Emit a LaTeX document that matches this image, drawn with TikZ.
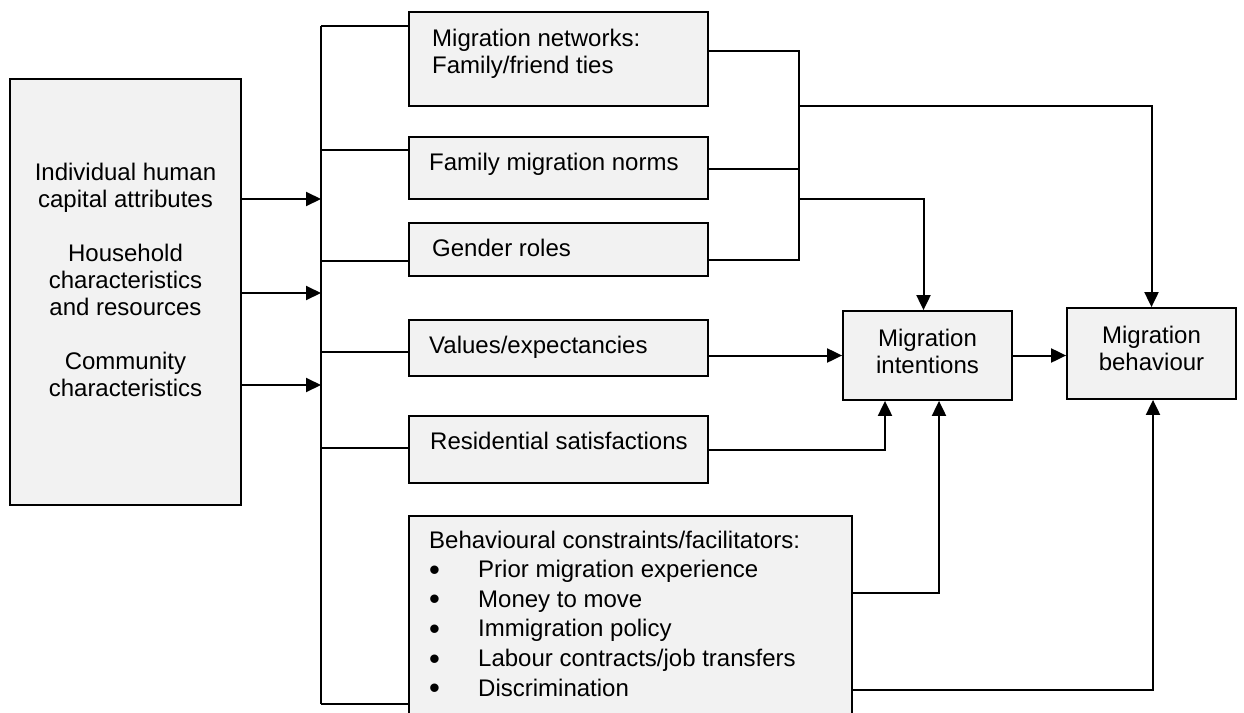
\documentclass[tikz,border=0pt]{standalone}
\usepackage{fontspec}
\setmainfont{Liberation Sans}
\definecolor{boxfill}{HTML}{F2F2F2}
\usetikzlibrary{arrows.meta, calc}
\newcommand{\blt}{\makebox[49pt][l]{\raisebox{-2.5pt}{\fontsize{31}{31}\selectfont•}}}

\begin{document}
\begin{tikzpicture}[
  x=1pt, y=-1pt,
  box/.style 2 args={draw, fill=boxfill, line width=1.8pt, inner sep=0pt, minimum width=#1, minimum height=#2},
  txt/.style={inner sep=0pt, font=\fontsize{24}{27}\selectfont},
  wire/.style={line width=1.5pt},
  arr/.style={line width=2pt, -{Triangle[length=15pt, width=14pt]}},
]
\useasboundingbox (0,0) rectangle (1244,712);

% Boxes
\node[box={231}{426}] (src) at (125.5,292) {};
\node[box={299}{94}] (net) at (558.5,59) {};
\node[box={299}{62}] (norm) at (558.5,168) {};
\node[box={299}{53}] (gend) at (558.5,249.5) {};
\node[box={299}{56}] (val) at (558.5,348) {};
\node[box={299}{67}] (res) at (558.5,449.5) {};
\node[box={443}{200}] (cons) at (630.5,616) {};
\node[box={169}{89}] (intent) at (927.5,355.5) {};
\node[box={169}{91}] (behav) at (1151.5,353.5) {};

% Labels
\node[txt, align=center, anchor=north] (srclbl) at (125.5,162.5) {Individual human\\capital attributes\\[27pt]Household\\characteristics\\and resources\\[27pt]Community\\characteristics};
\node[txt, align=left, anchor=north west] (netlbl) at (432,28.5) {Migration networks:\\Family/friend ties};
\node[txt, anchor=base west] (normlbl) at (429,170) {Family migration norms};
\node[txt, anchor=base west] (gendlbl) at (432,256) {Gender roles};
\node[txt, anchor=base west] (vallbl) at (429,353) {Values/expectancies};
\node[txt, anchor=base west] (reslbl) at (430,449) {Residential satisfactions};
\node[txt, align=left, anchor=north west, font=\fontsize{24}{29.6}\selectfont] (conslbl) at (429,530.5) {Behavioural constraints/facilitators:\\\blt Prior migration experience\\\blt Money to move\\\blt Immigration policy\\\blt Labour contracts/job transfers\\\blt Discrimination};
\node[txt, align=center, anchor=north] (intentlbl) at (927.5,328.5) {Migration\\intentions};
\node[txt, align=center, anchor=north] (behavlbl) at (1151.5,325.5) {Migration\\behaviour};

% Bus from the left box
\coordinate (bustop) at (321,26);
\coordinate (busbot) at (321,704);
\draw[wire] (bustop) -- (busbot);
\draw[wire] (bustop) -- (net.west |- bustop);
\foreach \y/\n in {150/norm, 261/gend, 352/val, 448/res} {
  \coordinate (j-\n) at (321,\y);
  \draw[wire] (j-\n) -- (\n.west |- j-\n);
}
\draw[wire] (busbot) -- (cons.west |- busbot);
\foreach \y [count=\i] in {199,293,385} {
  \coordinate (in\i) at (321,\y);
  \draw[arr] (src.east |- in\i) -- (in\i);
}

% Collector on the right
\coordinate (c1) at (799,51);
\coordinate (c2) at (799,169);
\coordinate (c3) at (799,260);
\coordinate (c4) at (799,106);
\coordinate (c5) at (799,199);
\draw[wire] (net.east |- c1) -- (c1) -- (c3) -- (gend.east |- c3);
\draw[wire] (norm.east |- c2) -- (c2);
\draw[arr] (c4) -| (behav.north);
\draw[arr] (c5) -| ([xshift=-4pt]intent.north);

% Into intentions and behaviour
\draw[arr] (val.east |- intent.west) -- (intent.west);
\draw[arr] (intent.east) -- (intent.east -| behav.west);
\draw[arr] (res.east) -| ([xshift=-42.5pt]intent.south);
\coordinate (k1) at (939,593);
\coordinate (k2) at (1153,690);
\draw[arr] (cons.east |- k1) -- (k1) -- (k1 |- intent.south);
\draw[arr] (cons.east |- k2) -- (k2) -- (k2 |- behav.south);
\end{tikzpicture}
\end{document}
